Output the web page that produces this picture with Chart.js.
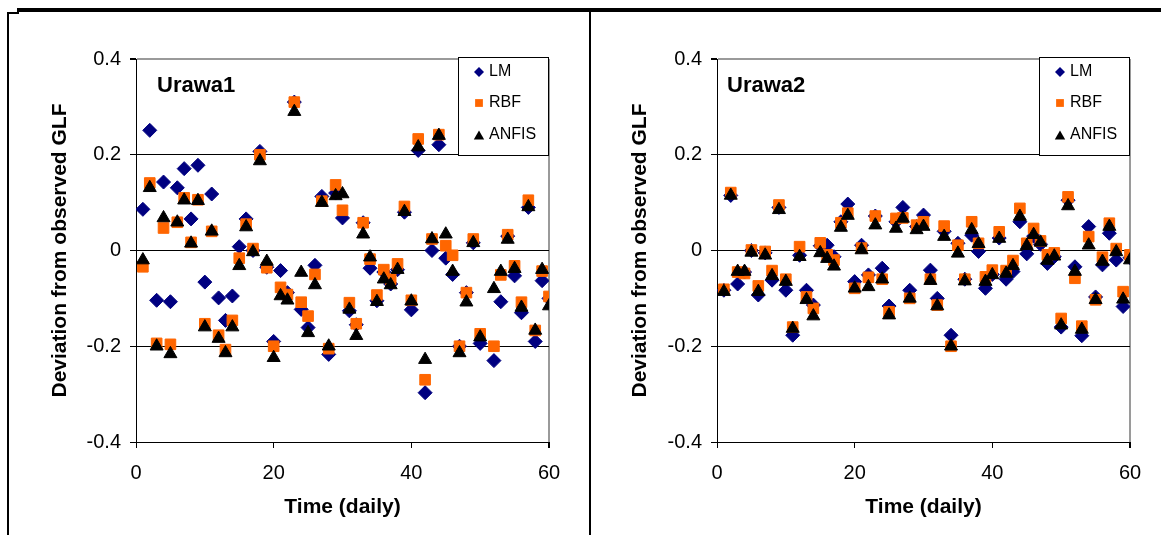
<!DOCTYPE html>
<html>
<head>
<meta charset="utf-8">
<script src="https://cdn.jsdelivr.net/npm/chart.js@4.4.0/dist/chart.umd.min.js"></script>
<style>
  body { margin: 0; background: #fff; width: 1161px; height: 535px; overflow: hidden; position: relative; }
  .frame { position: absolute; background: #000; }
  .panel { position: absolute; top: 0; height: 535px; }
</style>
</head>
<body>
<div class="frame" style="left:17px; top:8px; width:1144px; height:4px;"></div>
<div class="frame" style="left:7px; top:12px; width:12px; height:2px;"></div>
<div class="frame" style="left:7px; top:12px; width:2px; height:523px;"></div>
<div class="frame" style="left:589px; top:12px; width:2px; height:523px;"></div>
<div class="panel" style="left:8px; width:582px;"><canvas id="chart1"></canvas></div>
<div class="panel" style="left:590px; width:571px;"><canvas id="chart2"></canvas></div>

<script>
const FONT = '"Liberation Sans", Arial, sans-serif';

const days = [1, 2, 3, 4, 5, 6, 7, 8, 9, 10, 11, 12, 13, 14, 15, 16, 17, 18, 19, 20,
  21, 22, 23, 24, 25, 26, 27, 28, 29, 30, 31, 32, 33, 34, 35, 36, 37, 38, 39, 40,
  41, 42, 43, 44, 45, 46, 47, 48, 49, 50, 51, 52, 53, 54, 55, 56, 57, 58, 59, 60];

const seriesNames = ['LM', 'RBF', 'ANFIS'];

// Urawa1 (left panel), null = no point that day
const urawa1Lm = [0.086, 0.251, -0.104, 0.143, -0.107, 0.131, 0.171, 0.066, 0.178, -0.066,
  0.118, -0.099, -0.146, -0.095, 0.008, 0.066, 0.0, 0.207, -0.035, -0.19,
  -0.042, -0.088, 0.31, -0.123, -0.161, -0.031, 0.113, -0.217, 0.12, 0.068,
  -0.126, -0.155, 0.058, -0.037, -0.105, -0.045, -0.07, -0.04, 0.08, -0.124,
  0.209, -0.297, 0.0, 0.221, -0.016, -0.05, -0.2, -0.088, 0.016, -0.194,
  null, -0.23, -0.107, 0.03, -0.053, -0.13, 0.09, -0.19, -0.063, -0.1];
const urawa1Rbf = [-0.034, 0.141, -0.194, 0.047, -0.196, 0.059, 0.11, 0.017, 0.106, -0.153,
  0.04, -0.177, -0.207, -0.146, -0.016, 0.055, 0.004, 0.2, -0.036, -0.2,
  -0.077, -0.092, 0.31, -0.108, -0.137, -0.05, 0.103, -0.205, 0.137, 0.084,
  -0.109, -0.153, 0.058, -0.018, -0.093, -0.04, -0.06, -0.028, 0.092, -0.104,
  0.233, -0.27, 0.024, 0.242, 0.01, -0.01, -0.2, -0.088, 0.024, -0.174,
  null, -0.2, -0.051, 0.033, -0.032, -0.108, 0.105, -0.167, -0.043, -0.096];
const urawa1Anfis = [-0.02, 0.131, -0.2, 0.068, -0.216, 0.059, 0.105, 0.015, 0.104, -0.16,
  0.04, -0.184, -0.214, -0.16, -0.032, 0.049, -0.003, 0.187, -0.023, -0.224,
  -0.095, -0.104, 0.29, -0.046, -0.172, -0.072, 0.1, -0.2, 0.114, 0.118,
  -0.123, -0.178, 0.034, -0.014, -0.107, -0.06, -0.072, -0.04, 0.081, -0.106,
  0.216, -0.228, 0.024, 0.24, 0.034, -0.044, -0.214, -0.108, 0.016, -0.181,
  null, -0.08, -0.044, 0.023, -0.038, -0.119, 0.091, -0.167, -0.04, -0.116];

// Urawa2 (right panel)
const urawa2Lm = [-0.083, 0.115, -0.07, -0.045, 0.0, -0.093, -0.005, -0.062, 0.09, -0.083,
  -0.177, -0.01, -0.083, -0.114, 0.01, 0.011, -0.013, 0.06, 0.097, -0.065,
  0.011, -0.051, 0.072, -0.037, -0.116, 0.06, 0.09, -0.083, 0.05, 0.074,
  -0.041, -0.1, 0.04, -0.177, 0.015, -0.06, 0.032, -0.002, -0.079, -0.05,
  0.026, -0.06, -0.044, 0.06, -0.007, 0.03, 0.013, -0.027, -0.013, -0.16,
  0.105, -0.034, -0.178, 0.05, -0.097, -0.03, 0.036, -0.02, -0.117, -0.015];
const urawa2Rbf = [-0.081, 0.121, -0.045, -0.048, 0.001, -0.074, -0.002, -0.042, 0.095, -0.06,
  -0.16, 0.008, -0.097, -0.121, 0.016, -0.009, -0.02, 0.058, 0.078, -0.079,
  0.005, -0.056, 0.072, -0.06, -0.128, 0.067, 0.068, -0.1, 0.053, 0.06,
  -0.06, -0.114, 0.051, -0.2, 0.011, -0.06, 0.06, 0.015, -0.055, -0.041,
  0.039, -0.042, -0.021, 0.088, 0.015, 0.046, 0.02, -0.009, -0.005, -0.142,
  0.112, -0.058, -0.158, 0.029, -0.103, -0.014, 0.057, 0.004, -0.086, -0.009];
const urawa2Anfis = [-0.086, 0.115, -0.044, -0.044, -0.004, -0.086, -0.01, -0.053, 0.085, -0.065,
  -0.163, -0.013, -0.103, -0.137, -0.005, -0.017, -0.033, 0.048, 0.073, -0.079,
  0.001, -0.076, 0.053, -0.06, -0.135, 0.046, 0.067, -0.1, 0.043, 0.05,
  -0.063, -0.116, 0.029, -0.2, -0.006, -0.064, 0.043, 0.014, -0.065, -0.051,
  0.025, -0.048, -0.032, 0.071, 0.01, 0.033, 0.017, -0.021, -0.012, -0.156,
  0.093, -0.044, -0.165, 0.011, -0.103, -0.023, 0.05, -0.003, -0.102, -0.02];

const markers = [
  { style: 'rectRot', color: '#000080', radius: 7, legendRadius: 5 },
  { style: 'rect', color: '#FF6600', radius: 7.5, legendRadius: 5.5 },
  { style: 'triangle', color: '#000000', radius: 7.5, legendRadius: 6 }
];

function toPoints(values) {
  const pts = [];
  values.forEach((v, i) => {
    if (v !== null) pts.push({ x: days[i], y: v });
  });
  return pts;
}

function drawMarker(ctx, style, x, y, r) {
  ctx.beginPath();
  if (style === 'rectRot') {
    ctx.moveTo(x, y - r); ctx.lineTo(x + r, y); ctx.lineTo(x, y + r); ctx.lineTo(x - r, y);
  } else if (style === 'rect') {
    const s = r * Math.SQRT1_2;
    ctx.rect(x - s, y - s, 2 * s, 2 * s);
  } else {
    ctx.moveTo(x, y - r);
    ctx.lineTo(x + r * Math.sin(2 * Math.PI / 3), y - r * Math.cos(2 * Math.PI / 3));
    ctx.lineTo(x + r * Math.sin(4 * Math.PI / 3), y - r * Math.cos(4 * Math.PI / 3));
  }
  ctx.closePath();
  ctx.fill();
}

// panel name + boxed legend inside the plot area
const decorations = {
  id: 'decorations',
  afterDraw(chart, args, opts) {
    const { ctx, chartArea } = chart;
    ctx.save();
    ctx.fillStyle = '#000';
    ctx.font = 'bold 22px ' + FONT;
    ctx.textBaseline = 'middle';
    ctx.textAlign = 'left';
    ctx.fillText(opts.name, chartArea.left + opts.nameOffset, chartArea.top + 27);

    const bx = Math.round(chartArea.right - 91), by = Math.round(chartArea.top - 2);
    const bw = 90, bh = 98;
    ctx.fillStyle = '#fff';
    ctx.fillRect(bx, by, bw, bh);
    ctx.strokeStyle = '#000';
    ctx.lineWidth = 1;
    ctx.strokeRect(bx + 0.5, by + 0.5, bw, bh);

    const rows = [15, 46, 78];
    ctx.font = '16px ' + FONT;
    seriesNames.forEach((label, i) => {
      const m = markers[i];
      ctx.fillStyle = m.color;
      drawMarker(ctx, m.style, bx + 21, by + rows[i] + (m.style === 'triangle' ? 1.5 : 0), m.legendRadius);
      ctx.fillStyle = '#000';
      ctx.fillText(label, bx + 31, by + rows[i]);
    });
    ctx.restore();
  }
};

function makeChart(id, name, lm, rbf, anfis, cfg) {
  const ctx = document.getElementById(id).getContext('2d');
  const series = [lm, rbf, anfis];
  const datasets = series.map((vals, i) => ({
    label: seriesNames[i],
    data: toPoints(vals),
    pointStyle: markers[i].style,
    pointRadius: markers[i].radius,
    pointBackgroundColor: markers[i].color,
    pointBorderColor: markers[i].color,
    pointBorderWidth: 1,
    showLine: false,
    order: 3 - i // ANFIS drawn on top
  }));

  return new Chart(ctx, {
    type: 'scatter',
    data: { datasets: datasets },
    plugins: [decorations],
    options: {
      responsive: true,
      maintainAspectRatio: false,
      animation: false,
      events: [],
      layout: { padding: { top: 59, right: cfg.rightPad, bottom: 0, left: 0 } },
      scales: {
        x: {
          type: 'linear',
          min: 0,
          max: 60,
          afterFit: s => { s.height = 93; },
          ticks: {
            stepSize: 20,
            autoSkip: false,
            maxRotation: 0,
            padding: 13,
            color: '#000',
            font: { family: FONT, size: 20 }
          },
          grid: {
            color: c => (c.tick && c.tick.value === 60) ? '#9a9a9a' : 'rgba(0,0,0,0)',
            lineWidth: c => (c.tick && c.tick.value === 60) ? 2 : 1,
            tickColor: '#000',
            tickLength: 6
          },
          border: { color: '#000', width: 1 },
          title: {
            display: true,
            text: 'Time (daily)',
            color: '#000',
            font: { family: FONT, size: 21, weight: 'bold' },
            padding: { top: 0, bottom: 15 }
          }
        },
        y: {
          type: 'linear',
          min: -0.4,
          max: 0.4,
          afterFit: s => { s.width = cfg.yWidth; },
          ticks: {
            stepSize: 0.2,
            padding: 9,
            color: '#000',
            font: { family: FONT, size: 20 },
            callback: v => Math.abs(v) < 1e-9 ? '0' : String(Math.round(v * 10) / 10)
          },
          grid: {
            color: c => (c.tick && Math.abs(c.tick.value - 0.4) < 1e-6) ? '#9a9a9a' : '#000',
            lineWidth: c => (c.tick && Math.abs(c.tick.value - 0.4) < 1e-6) ? 2 : 1,
            tickColor: '#000',
            tickLength: 6
          },
          border: { color: '#000', width: 1 },
          title: {
            display: true,
            text: 'Deviation from observed GLF',
            color: '#000',
            font: { family: FONT, size: 21, weight: 'bold' },
            padding: { top: cfg.yTitlePad, bottom: 0 }
          }
        }
      },
      plugins: {
        legend: { display: false },
        tooltip: { enabled: false },
        decorations: { name: name, nameOffset: cfg.nameOffset }
      }
    }
  });
}

makeChart('chart1', 'Urawa1', urawa1Lm, urawa1Rbf, urawa1Anfis,
  { yWidth: 128, rightPad: 41, yTitlePad: 40, nameOffset: 21 });
makeChart('chart2', 'Urawa2', urawa2Lm, urawa2Rbf, urawa2Anfis,
  { yWidth: 127, rightPad: 31, yTitlePad: 38, nameOffset: 10 });
</script>
</body>
</html>
